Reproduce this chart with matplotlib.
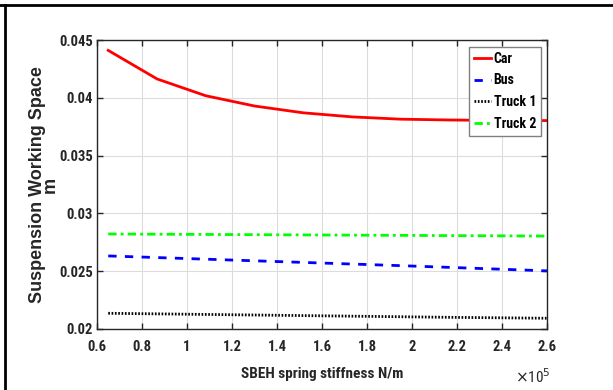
import numpy as np
import matplotlib
matplotlib.use("Agg")
import matplotlib.pyplot as plt
from matplotlib.lines import Line2D
from matplotlib.ticker import FuncFormatter

stiffness = [0.65e5, 0.867e5, 1.083e5, 1.3e5, 1.517e5, 1.733e5, 1.95e5, 2.167e5, 2.383e5, 2.6e5]
car = [0.0441, 0.04163, 0.04018, 0.03929, 0.03870, 0.03835, 0.03815, 0.03808, 0.03804, 0.03803]
bus = [0.02632, 0.02618, 0.02604, 0.02590, 0.02576, 0.02562, 0.02548, 0.02533, 0.02518, 0.02503]
truck1 = [0.02136, 0.02131, 0.02126, 0.02121, 0.02116, 0.02111, 0.02106, 0.02101, 0.02097, 0.02093]
truck2 = [0.02822, 0.02820, 0.02818, 0.02816, 0.02814, 0.02812, 0.02810, 0.02808, 0.02806, 0.02804]
labels = ["Car", "Bus", "Truck 1", "Truck 2"]
xticks = [0.6, 0.8, 1.0, 1.2, 1.4, 1.6, 1.8, 2.0, 2.2, 2.4, 2.6]
yticks = [0.02, 0.025, 0.03, 0.035, 0.04, 0.045]

narrow = ['Roboto Condensed', 'Liberation Sans Narrow', 'Liberation Sans', 'DejaVu Sans']
wide = ['Liberation Sans', 'DejaVu Sans']

fig = plt.figure(figsize=(6.13, 3.9), dpi=100)
ax = fig.add_axes([97/613, 61/390, 450/613, 289/390])

ax.plot(stiffness, car, color='#ff0000', lw=2.0, ls='-', label=labels[0])
ax.plot(stiffness, bus, color='#0000ff', lw=2.0, ls=(0, (3, 3)), label=labels[1])
ax.plot(stiffness, truck1, color='black', lw=2.0, ls=(0, (0.6, 0.6)), label=labels[2])
ax.plot(stiffness, truck2, color='#00ff00', lw=2.0, ls=(0, (3, 1.5, 1, 1.5)), label=labels[3])

ax.set_xlim(0.6e5, 2.6e5)
ax.set_ylim(0.02, 0.045)
ax.set_xticks([v*1e5 for v in xticks])
ax.set_yticks(yticks)
ax.xaxis.set_major_formatter(FuncFormatter(lambda v, p: "%g" % (v/1e5)))
ax.yaxis.set_major_formatter(FuncFormatter(lambda v, p: "%g" % round(v, 4)))
ax.grid(True, color='#dcdcdc', lw=0.8)
ax.set_axisbelow(True)
ax.tick_params(direction='in', length=4, width=1, top=True, right=True,
               labelsize=10.5, colors='#262626')
ax.tick_params(axis='x', pad=8)
ax.tick_params(axis='y', pad=3)
for lab in ax.get_xticklabels() + ax.get_yticklabels():
    lab.set_fontfamily(narrow)
    lab.set_fontweight('bold')
    lab.set_color('#262626')
for s in ax.spines.values():
    s.set_color('#262626')
    s.set_linewidth(1.0)

ax.set_xlabel("SBEH spring stiffness N/m", family=narrow, fontweight='bold',
              fontsize=11, color='#262626')
ax.xaxis.set_label_coords(0.5, -38/289)
ax.set_ylabel("Suspension Working Space\nm", family=wide, fontweight='bold',
              fontsize=13, color='#262626', linespacing=0.72)
ax.yaxis.set_label_coords(-38/450, 0.5)
fig.text(533/613, 1-377/390, r"$\times$10$^5$", family=narrow, fontsize=11,
         ha='center', va='center', color='#262626')

leg = ax.legend(loc='upper right', bbox_to_anchor=(541/613, 1-47/390),
                bbox_transform=fig.transFigure, prop={'family': narrow, 'weight': 'bold', 'size': 10},
                frameon=True, fancybox=False, handlelength=1.2, handletextpad=0.2,
                borderpad=0.35, labelspacing=0.55, borderaxespad=0)
leg.get_frame().set_edgecolor('#808080')
leg.get_frame().set_linewidth(1.0)
leg.get_frame().set_alpha(1)

fig.add_artist(Line2D([0, 1], [1-5/390, 1-5/390], transform=fig.transFigure, color='black', lw=2))
fig.add_artist(Line2D([5/613, 5/613], [0, 1-5/390], transform=fig.transFigure, color='black', lw=2))

fig.savefig("out.png", dpi=100)
